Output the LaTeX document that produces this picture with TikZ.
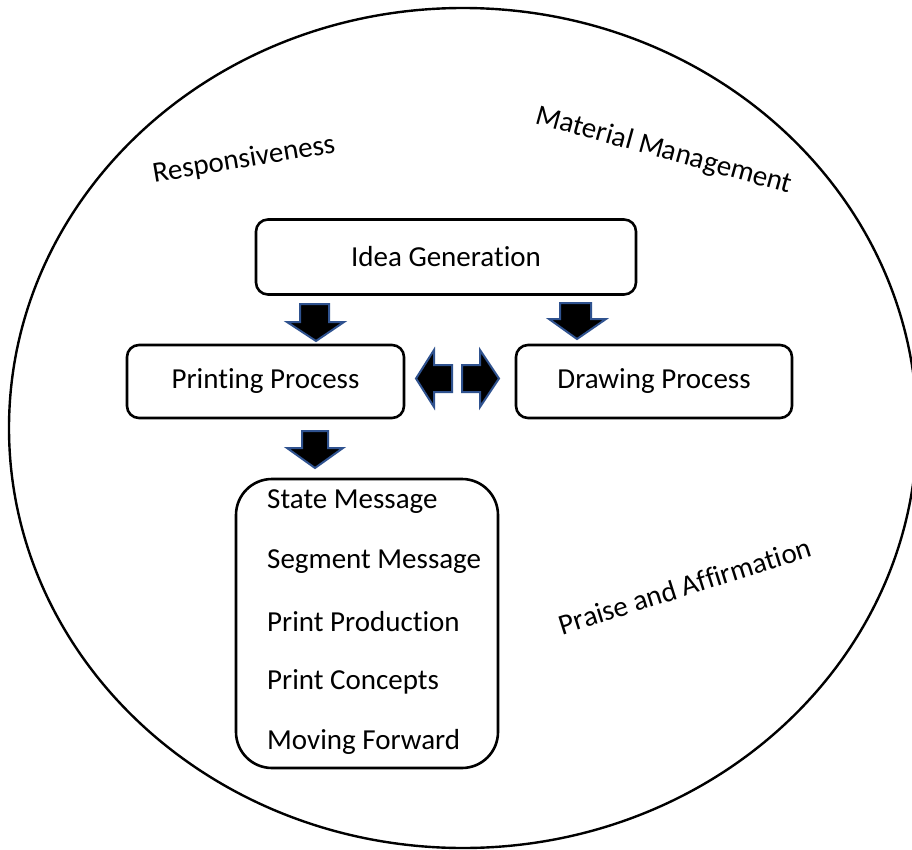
\documentclass[tikz,border=0pt]{standalone}
\usepackage{fontspec}
\setmainfont{Carlito}[RawFeature={-liga;-clig;-calt;-dlig}]
\newcommand{\lblfont}{\fontsize{29}{35}\selectfont}
\definecolor{arrowedge}{HTML}{2F528F}
\begin{document}
\begin{tikzpicture}[x=1pt,y=-1pt,
  box/.style={draw=black, line width=2.6pt, rounded corners=12pt, inner sep=0pt, font=\lblfont},
  listbox/.style={draw=black, line width=2.6pt, rounded corners=36pt, inner sep=0pt},
  item/.style={anchor=west, inner sep=0pt, font=\lblfont},
  freelabel/.style={inner sep=0pt, font=\lblfont},
  blockarrow/.style={draw=arrowedge, fill=black, line width=2pt, line join=miter}]
\useasboundingbox (0,0) rectangle (912,850);
\fill[white] (0,0) rectangle (912,850);
% outer ellipse
\draw[line width=2.4pt] (463,428) ellipse [x radius=454, y radius=420];
% boxes
\node[box, minimum width=380pt, minimum height=75pt] (idea) at (446,257) {Idea Generation};
\node[box, minimum width=277pt, minimum height=73pt] (print) at (265.5,381.5) {Printing Process};
\node[box, minimum width=276pt, minimum height=73pt] (draw) at (654,381.5) {Drawing Process};
\node[listbox, minimum width=262pt, minimum height=289pt] (list) at (367,623.5) {};
\node[item] (l1) at (267,502) {State Message};
\node[item] (l2) at (267,562) {Segment Message};
\node[item] (l3) at (267,622) {Print Production};
\node[item] (l4) at (267,682) {Print Concepts};
\node[item] (l5) at (267,742) {Moving Forward};
% free labels
\node[freelabel, rotate=9.5] (resp) at (244,160) {Responsiveness};
\node[freelabel, rotate=-15.5] (mat) at (664,151) {Material Management};
\node[freelabel, rotate=17.5] (praise) at (685,586) {Praise and Affirmation};
% block arrows
\draw[blockarrow] (300,304) -- (329,304) -- (329,322) -- (344,322) -- (316,341) -- (287,322) -- (300,322) -- cycle;
\draw[blockarrow] (560,303) -- (591,303) -- (591,319) -- (606,319) -- (577,339) -- (549,319) -- (560,319) -- cycle;
\draw[blockarrow] (302,431) -- (328,431) -- (328,448) -- (343,448) -- (315,468) -- (287,448) -- (302,448) -- cycle;
\draw[blockarrow] (452,365) -- (434,365) -- (434,350) -- (416,378.5) -- (434,407) -- (434,392) -- (452,392) -- cycle;
\draw[blockarrow] (462,365) -- (480,365) -- (480,350) -- (499,378.5) -- (480,407) -- (480,392) -- (462,392) -- cycle;
\end{tikzpicture}
\end{document}
